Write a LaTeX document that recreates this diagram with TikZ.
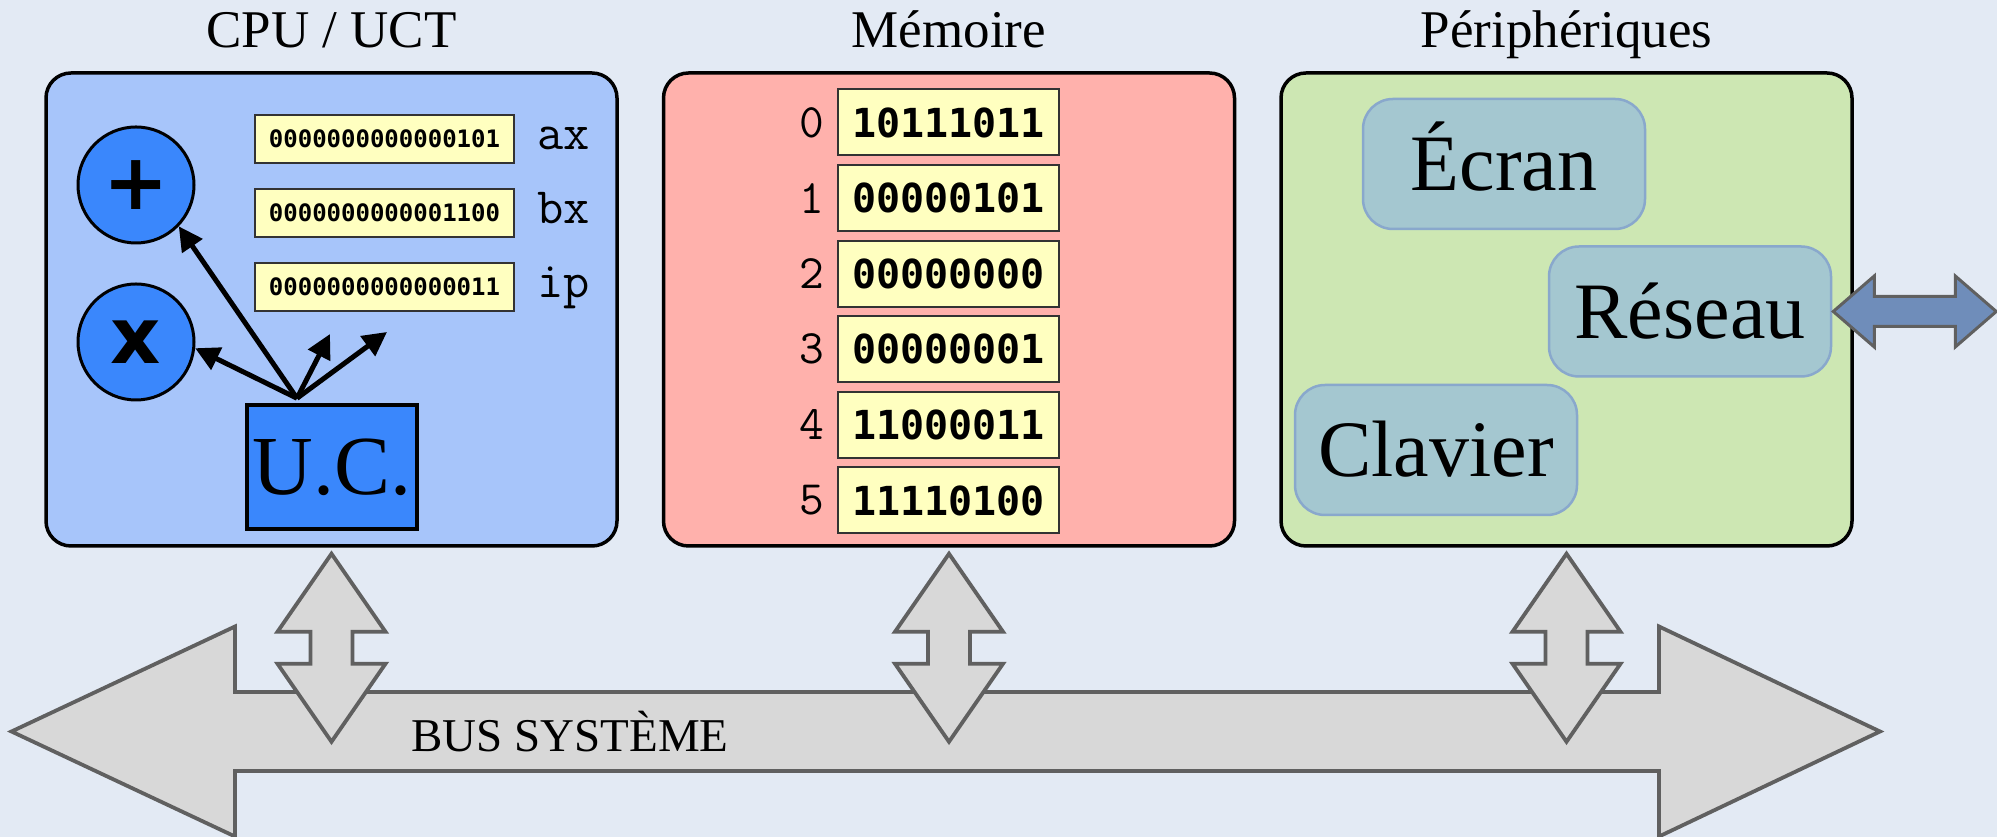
\documentclass[tikz,border=0pt]{standalone}
\usepackage{fontspec}
\setmainfont{Liberation Serif}
\newfontfamily\regfont{DejaVu Sans Mono}
\newfontfamily\opfont{DejaVu Sans}
\usetikzlibrary{arrows.meta,positioning}

\definecolor{paper}{RGB}{227,234,244}
\definecolor{cpufill}{RGB}{167,197,250}
\definecolor{ucblue}{RGB}{58,135,252}
\definecolor{regyellow}{RGB}{255,255,192}
\definecolor{memfill}{RGB}{255,177,172}
\definecolor{perfill}{RGB}{205,231,179}
\definecolor{devfill}{RGB}{164,199,208}
\definecolor{devline}{RGB}{137,168,204}
\definecolor{busgrey}{RGB}{216,216,216}
\definecolor{busline}{RGB}{96,96,96}
\definecolor{netblue}{RGB}{111,141,186}

\begin{document}
\begin{tikzpicture}[x=1pt,y=1pt,>={Triangle[length=24pt,width=24pt]},
  panel/.style={draw,line width=3.5pt,rounded corners=25pt,minimum width=571pt,minimum height=473pt},
  title/.style={anchor=base,font=\fontsize{53}{60}\selectfont},
  op/.style={circle,draw,line width=3pt,fill=ucblue,minimum size=116pt,inner sep=0pt,font=\opfont\bfseries\fontsize{78}{78}\selectfont},
  unit/.style={draw,line width=3.5pt,fill=ucblue,inner sep=0pt},
  reg/.style={draw=black!80,line width=2pt,fill=regyellow,inner sep=0pt,outer sep=0pt,minimum width=259pt,minimum height=48pt,font=\regfont\bfseries\fontsize{24}{24}\selectfont},
  regname/.style={inner sep=0pt,text height=22pt,text depth=0pt,font=\ttfamily\fontsize{51}{51}\selectfont},
  cell/.style={reg,minimum width=221pt,minimum height=66pt,font=\regfont\bfseries\fontsize{40}{40}\selectfont},
  addr/.style={inner sep=0pt,font=\ttfamily\fontsize{48}{48}\selectfont},
  device/.style={draw=devline,line width=2.5pt,fill=devfill,rounded corners=30pt,minimum width=282pt,minimum height=130pt,text height=54pt,text depth=0pt,font=\fontsize{80}{80}\selectfont},
  fat/.style={draw=busline,line width=3.8pt,fill=busgrey,line join=miter}]
\fill[paper] (0,0) rectangle (1997,837);
\useasboundingbox (0,0) rectangle (1997,837);

% the three blocks
\node[panel,fill=cpufill] (cpu) at (331.5,527.5) {};
\node[panel,fill=memfill,right=43pt of cpu] (mem) {};
\node[panel,fill=perfill,right=43pt of mem] (per) {};
\node[title] at ([yshift=23.5pt]cpu.north) {CPU / UCT};
\node[title] at ([yshift=23.5pt]mem.north) {Mémoire};
\node[title] at ([yshift=23.5pt]per.north) {Périphériques};

% processor
\node[op] (plus) at (136,652) {+};
\node[op,below=38pt of plus] (times) {x};
\node[reg] (ax) at (384.5,698) {0000000000000101};
\node[reg,below=26pt of ax] (bx) {0000000000001100};
\node[reg,below=26pt of bx] (ip) {0000000000000011};
\node[regname,right=23pt of ax] (axname) {ax};
\node[regname,right=23pt of bx] (bxname) {bx};
\node[regname,right=23pt of ip] (ipname) {ip};
\node[unit,minimum width=170pt,minimum height=124pt,font=\fontsize{84}{84}\selectfont] (uc) at (332,370) {U.C.};
\coordinate (fan) at ([xshift=-35pt,yshift=5pt]uc.north);
\coordinate (aim1) at (330,503);
\coordinate (aim2) at (387,505);
\draw[->,line width=5pt] (fan)--(plus.-44);\draw[->,line width=5pt] (fan)--(times.-6);
\draw[->,line width=5pt] (fan)--(aim1);\draw[->,line width=5pt] (fan)--(aim2);

% memory cells
\node[cell] (m0) at (948.5,714.5) {10111011};
\node[cell,below=9.6pt of m0] (m1) {00000101};
\node[cell,below=9.6pt of m1] (m2) {00000000};
\node[cell,below=9.6pt of m2] (m3) {00000001};
\node[cell,below=9.6pt of m3] (m4) {11000011};
\node[cell,below=9.6pt of m4] (m5) {11110100};
\node[addr,left=14pt of m0] {0};\node[addr,left=14pt of m1] {1};\node[addr,left=14pt of m2] {2};
\node[addr,left=14pt of m3] {3};\node[addr,left=14pt of m4] {4};\node[addr,left=14pt of m5] {5};

% peripherals
\node[device] (ecran) at (1504,673) {Écran};
\node[device] (reseau) at (1690,525.5) {Réseau};
\node[device] (clavier) at (1436,387) {Clavier};
\draw[fat,fill=netblue,line width=3pt] ([xshift=1pt]reseau.east) -- ++(41,35.5) -- ++(0,-20.5) -- ++(81,0) -- ++(0,20.5)
  -- ++(41,-35.5) -- ++(-41,-35.5) -- ++(0,20.5) -- ++(-81,0) -- ++(0,-20.5) -- cycle;

% system bus
\draw[fat] (11.5,105.5) -- (235,210.5) -- (235,145) -- (1659,145) -- (1659,210.5) -- (1880,105.5)
  -- (1659,0.5) -- (1659,66) -- (235,66) -- (235,0.5) -- cycle;
\node[anchor=base,font=\fontsize{47}{50}\selectfont] (buslabel) at (570,85) {BUS SYSTÈME};
\draw[fat] ([yshift=-6pt]cpu.south) -- ++(54,-78) -- ++(-33,0) -- ++(0,-32) -- ++(33,0) -- ++(-54,-78)
  -- ++(-54,78) -- ++(33,0) -- ++(0,32) -- ++(-33,0) -- cycle;
\draw[fat] ([yshift=-6pt]mem.south) -- ++(54,-78) -- ++(-33,0) -- ++(0,-32) -- ++(33,0) -- ++(-54,-78)
  -- ++(-54,78) -- ++(33,0) -- ++(0,32) -- ++(-33,0) -- cycle;
\draw[fat] ([yshift=-6pt]per.south) -- ++(54,-78) -- ++(-33,0) -- ++(0,-32) -- ++(33,0) -- ++(-54,-78)
  -- ++(-54,78) -- ++(33,0) -- ++(0,32) -- ++(-33,0) -- cycle;
\end{tikzpicture}
\end{document}
